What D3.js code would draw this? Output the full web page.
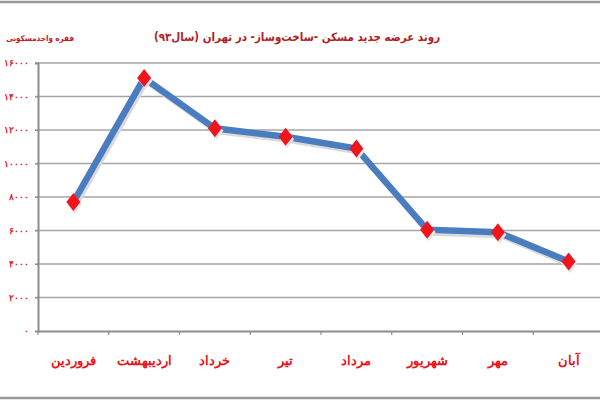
<!DOCTYPE html>
<html>
<head>
<meta charset="utf-8">
<script src="https://cdn.jsdelivr.net/npm/d3@7"></script>
<style>
  body { margin: 0; background: #fff; }
  svg { display: block; font-family: "DejaVu Sans Condensed", "DejaVu Sans", sans-serif; }
</style>
</head>
<body>
<svg id="chart"></svg>
<script>
// Datos.
const MESES = ["فروردین", "اردیبهشت", "خرداد", "تیر", "مرداد", "شهریور", "مهر", "آبان"];
const VALORES = [7700, 15100, 12100, 11600, 10900, 6050, 5900, 4150];
const TICKS_Y = [0, 2000, 4000, 6000, 8000, 10000, 12000, 14000, 16000];
const TICK_LABELS = ["۰", "۲۰۰۰", "۴۰۰۰", "۶۰۰۰", "۸۰۰۰", "۱۰۰۰۰", "۱۲۰۰۰", "۱۴۰۰۰", "۱۶۰۰۰"];
const TITULO = "روند عرضه جدید مسکن -ساخت‌وساز- در تهران (سال۹۳)";
const TITULO_Y = "فقره واحدمسکونی";

const WIDTH = 600;
const HEIGHT = 400;
const MARGIN = { top: 63, bottom: 69, left: 38, right: -4 };

const svg = d3.select('svg#chart')
              .attr('width', WIDTH)
              .attr('height', HEIGHT);

// marco gris arriba y abajo
svg.append('line')
    .attr('x1', 0).attr('x2', WIDTH).attr('y1', 2).attr('y2', 2)
    .attr('stroke', '#9a9a9a').attr('stroke-width', 2.5);
svg.append('line')
    .attr('x1', 0).attr('x2', WIDTH).attr('y1', 398).attr('y2', 398)
    .attr('stroke', '#9a9a9a').attr('stroke-width', 2.5);

const escalaX = d3.scaleBand()
                  .domain(MESES)
                  .range([MARGIN.left, WIDTH - MARGIN.right])
                  .padding(0);

const escalaY = d3.scaleLinear()
                  .domain([0, 16000])
                  .range([HEIGHT - MARGIN.bottom, MARGIN.top]);

const rojo = '#e8141b';

// Grilla
svg.append('g')
    .selectAll('line.grid')
    .data(TICKS_Y.slice(1))
    .join('line')
        .attr('class', 'grid')
        .attr('x1', MARGIN.left - 3)
        .attr('x2', WIDTH - MARGIN.right)
        .attr('y1', d => escalaY(d))
        .attr('y2', d => escalaY(d))
        .attr('stroke', '#a6a6a6')
        .attr('stroke-width', 1.5);

// Eje Y
const ejeY = svg.append('g')
    .attr('transform', `translate(${MARGIN.left}, 0)`)
    .call(d3.axisLeft(escalaY)
            .tickValues(TICKS_Y)
            .tickSize(3)
            .tickPadding(6)
            .tickFormat((d, i) => TICK_LABELS[i]));
ejeY.select('.domain').attr('stroke', '#8c8c8c').attr('stroke-width', 2);
ejeY.selectAll('.tick line').attr('stroke', '#8c8c8c');
ejeY.selectAll('.tick text')
    .attr('fill', rojo)
    .attr('font-size', 9)
    .attr('font-weight', 'bold');

// Eje X
const ejeX = svg.append('g')
    .attr('transform', `translate(0, ${HEIGHT - MARGIN.bottom})`)
    .call(d3.axisBottom(escalaX).tickSize(0).tickPadding(25));
ejeX.select('.domain').attr('stroke', '#8c8c8c').attr('stroke-width', 2);
ejeX.selectAll('.tick text')
    .attr('fill', rojo)
    .attr('font-size', 13)
    .attr('font-weight', 'bold');

// marcas entre categorias
ejeX.selectAll('line.sep')
    .data(MESES)
    .join('line')
        .attr('class', 'sep')
        .attr('x1', d => escalaX(d))
        .attr('x2', d => escalaX(d))
        .attr('y1', 0)
        .attr('y2', 4)
        .attr('stroke', '#8c8c8c')
        .attr('stroke-width', 1.2);

// Linea
const linea = d3.line()
                .x((d, i) => escalaX(MESES[i]) + escalaX.bandwidth() / 2)
                .y(d => escalaY(d));

// sombra
svg.append('path')
    .datum(VALORES)
    .attr('d', linea)
    .attr('transform', 'translate(2, 3)')
    .attr('fill', 'none')
    .attr('stroke', '#dadada')
    .attr('stroke-width', 6)
    .attr('stroke-linejoin', 'round');

svg.append('path')
    .datum(VALORES)
    .attr('d', linea)
    .attr('fill', 'none')
    .attr('stroke', '#4a7dbf')
    .attr('stroke-width', 6.5)
    .attr('stroke-linejoin', 'miter');

// Rombos
const rombo = 'M0,-9L7,0L0,9L-7,0Z';
svg.append('g')
    .selectAll('path.rombo-sombra')
    .data(VALORES)
    .join('path')
        .attr('class', 'rombo-sombra')
        .attr('d', rombo)
        .attr('transform', (d, i) => `translate(${escalaX(MESES[i]) + escalaX.bandwidth() / 2 + 1.5}, ${escalaY(d) + 2.5})`)
        .attr('fill', '#e4e4e4');

svg.append('g')
    .selectAll('path.rombo')
    .data(VALORES)
    .join('path')
        .attr('class', 'rombo')
        .attr('d', rombo)
        .attr('transform', (d, i) => `translate(${escalaX(MESES[i]) + escalaX.bandwidth() / 2}, ${escalaY(d)})`)
        .attr('fill', '#f0141c');

// Titulos
svg.append('text')
    .attr('x', 297)
    .attr('y', 41)
    .attr('text-anchor', 'middle')
    .attr('fill', '#b01e24')
    .attr('font-size', 11.5)
    .attr('font-weight', 'bold')
    .text(TITULO);

svg.append('text')
    .attr('x', 74)
    .attr('y', 41)
    .attr('text-anchor', 'end')
    .attr('fill', '#c8161d')
    .attr('font-size', 8)
    .attr('font-weight', 'bold')
    .text(TITULO_Y);
</script>
</body>
</html>
